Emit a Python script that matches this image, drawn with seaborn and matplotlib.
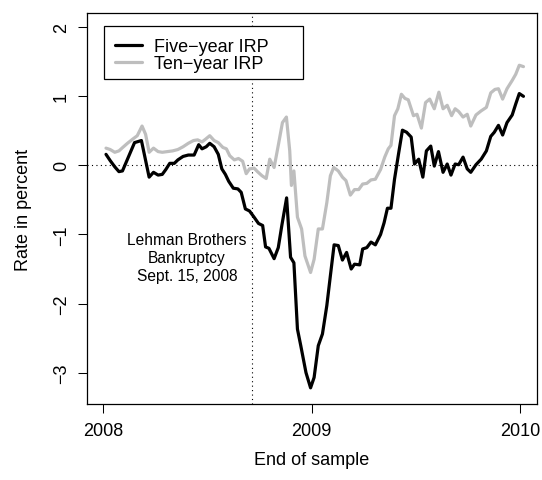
import matplotlib
matplotlib.use("Agg")
import matplotlib.pyplot as plt
from matplotlib.patches import Rectangle
import pandas as pd
import seaborn as sns

# years after 2008.0 (end of sample) and interest rate premia in percent
five_t = [0.013, 0.033, 0.055, 0.075, 0.092, 0.150, 0.183, 0.220, 0.241, 0.263,
          0.283, 0.300, 0.319, 0.341, 0.358, 0.383, 0.408, 0.436, 0.458, 0.474,
          0.494, 0.511, 0.532, 0.552, 0.569, 0.586, 0.602, 0.624, 0.646, 0.662,
          0.682, 0.702, 0.724, 0.745, 0.765, 0.779, 0.795, 0.820, 0.840, 0.857,
          0.880, 0.899, 0.915, 0.932, 0.948, 0.973, 0.995, 1.012, 1.032, 1.052,
          1.073, 1.090, 1.108, 1.128, 1.148, 1.168, 1.190, 1.206, 1.231, 1.245,
          1.265, 1.285, 1.306, 1.331, 1.348, 1.364, 1.381, 1.398, 1.418, 1.436,
          1.456, 1.478, 1.494, 1.514, 1.534, 1.551, 1.572, 1.589, 1.609, 1.631,
          1.651, 1.669, 1.689, 1.706, 1.727, 1.747, 1.764, 1.789, 1.814, 1.839,
          1.860, 1.877, 1.897, 1.917, 1.938, 1.963, 1.980, 1.997, 2.017]
five_irp = [0.16, 0.07, -0.02, -0.09, -0.08, 0.33, 0.36, -0.17, -0.10, -0.14,
            -0.13, -0.06, 0.03, 0.03, 0.08, 0.13, 0.15, 0.15, 0.30, 0.24,
            0.27, 0.32, 0.27, 0.16, -0.05, -0.13, -0.23, -0.33, -0.34, -0.39,
            -0.63, -0.66, -0.75, -0.84, -0.87, -1.18, -1.20, -1.35, -1.19, -0.87,
            -0.47, -1.33, -1.41, -2.37, -2.61, -3.00, -3.22, -3.07, -2.61, -2.44,
            -2.03, -1.60, -1.15, -1.16, -1.37, -1.26, -1.50, -1.43, -1.44, -1.21,
            -1.19, -1.11, -1.15, -1.00, -0.83, -0.62, -0.62, -0.20, 0.18, 0.51,
            0.48, 0.41, 0.02, 0.09, -0.17, 0.21, 0.28, -0.01, 0.20, -0.10,
            0.02, -0.14, 0.02, 0.01, 0.12, -0.05, -0.10, 0.01, 0.09, 0.21,
            0.42, 0.48, 0.58, 0.44, 0.62, 0.73, 0.89, 1.04, 1.00]

ten_t = [0.013, 0.033, 0.055, 0.075, 0.097, 0.116, 0.141, 0.163, 0.186, 0.203,
         0.220, 0.241, 0.263, 0.283, 0.308, 0.333, 0.358, 0.383, 0.408, 0.433,
         0.453, 0.474, 0.491, 0.511, 0.532, 0.552, 0.574, 0.591, 0.607, 0.629,
         0.649, 0.669, 0.686, 0.702, 0.724, 0.740, 0.762, 0.782, 0.799, 0.820,
         0.840, 0.860, 0.879, 0.895, 0.903, 0.915, 0.932, 0.952, 0.968, 0.995,
         1.012, 1.032, 1.052, 1.073, 1.090, 1.106, 1.128, 1.148, 1.165, 1.186,
         1.206, 1.226, 1.245, 1.265, 1.285, 1.306, 1.331, 1.351, 1.368, 1.381,
         1.398, 1.414, 1.431, 1.448, 1.464, 1.489, 1.506, 1.527, 1.547, 1.567,
         1.589, 1.611, 1.631, 1.651, 1.672, 1.689, 1.706, 1.727, 1.747, 1.764,
         1.789, 1.814, 1.839, 1.860, 1.880, 1.897, 1.917, 1.938, 1.963, 1.980,
         1.997, 2.017]
ten_irp = [0.25, 0.23, 0.19, 0.21, 0.27, 0.32, 0.38, 0.43, 0.57, 0.45,
           0.19, 0.25, 0.20, 0.19, 0.20, 0.21, 0.23, 0.27, 0.32, 0.36,
           0.37, 0.34, 0.38, 0.43, 0.36, 0.33, 0.26, 0.24, 0.14, 0.08,
           0.10, 0.06, -0.12, -0.05, -0.04, -0.09, -0.15, -0.19, 0.09, -0.03,
           0.29, 0.62, 0.70, 0.21, -0.29, -0.08, -0.75, -0.92, -1.31, -1.55,
           -1.36, -0.92, -0.92, -0.54, -0.15, -0.03, -0.08, -0.17, -0.22, -0.43,
           -0.35, -0.35, -0.27, -0.26, -0.21, -0.20, -0.06, 0.12, 0.24, 0.29,
           0.72, 0.82, 1.03, 0.97, 0.95, 0.72, 0.74, 0.54, 0.91, 0.96,
           0.82, 1.06, 0.82, 0.87, 0.72, 0.82, 0.78, 0.70, 0.74, 0.57,
           0.73, 0.79, 0.84, 1.05, 1.10, 1.11, 0.96, 1.11, 1.23, 1.32,
           1.45, 1.43]

year_ticks = [2008, 2009, 2010]
rate_ticks = [-3, -2, -1, 0, 1, 2]
lehman_date = 2008.715
lehman_text = "Lehman Brothers\nBankruptcy\nSept. 15, 2008"
series_names = ["Five\u2212year IRP", "Ten\u2212year IRP"]


def make_frame(t, vals):
    return pd.DataFrame({"year": [2008 + v for v in t], "rate": vals})


def main():
    sns.set_style("ticks")
    plt.rcParams["font.family"] = ["Liberation Sans", "DejaVu Sans"]
    plt.rcParams["axes.unicode_minus"] = True
    plt.rcParams["text.color"] = "black"
    plt.rcParams["axes.labelcolor"] = "black"
    plt.rcParams["xtick.color"] = "black"
    plt.rcParams["ytick.color"] = "black"

    fig = plt.figure(figsize=(5.42, 4.81), dpi=100)
    ax = fig.add_axes([0.161, 0.158, 0.829, 0.813])

    sns.lineplot(data=make_frame(five_t, five_irp), x="year", y="rate", ax=ax,
                 color="black", linewidth=2.3, label=series_names[0], zorder=3)
    sns.lineplot(data=make_frame(ten_t, ten_irp), x="year", y="rate", ax=ax,
                 color="#BEBEBE", linewidth=2.3, label=series_names[1], zorder=2)

    ax.axhline(0, color="black", linestyle=(0, (1, 3)), linewidth=0.8, zorder=1)
    ax.axvline(lehman_date, color="black", linestyle=(0, (1, 3)), linewidth=0.8, zorder=1)
    ax.text(2008.402, -1.33, lehman_text, ha="center", va="center",
            fontsize=11.2, linespacing=1.25, color="black")

    ax.set_xlim(2007.923, 2010.08)
    ax.set_ylim(-3.454, 2.207)
    ax.set_xticks(year_ticks)
    ax.set_yticks(rate_ticks)
    ax.set_xticklabels([str(y) for y in year_ticks])
    ax.tick_params(axis="both", direction="out", length=6.5, width=0.75,
                   labelsize=13, color="black", labelcolor="black")
    ax.tick_params(axis="x", pad=6.2)
    ax.tick_params(axis="y", pad=6.0, labelrotation=90)
    for lab in ax.get_yticklabels():
        lab.set_va("center")

    for sp in ax.spines.values():
        sp.set_visible(True)
        sp.set_color("black")
        sp.set_linewidth(0.9)

    ax.set_xlabel("End of sample", fontsize=13, color="black")
    ax.set_ylabel("Rate in percent", fontsize=13, color="black")
    ax.xaxis.set_label_coords(0.5, -0.143)
    ax.xaxis.label.set_va("center")
    ax.yaxis.set_label_coords(-0.142, 0.5)
    ax.yaxis.label.set_va("center")

    # legend frame in R style, wider than its contents
    frame = Rectangle((104 / 542, 1 - 80 / 481), 199 / 542, 52.7 / 481,
                      transform=fig.transFigure, facecolor="white",
                      edgecolor="black", linewidth=0.9, zorder=4)
    ax.add_patch(frame)
    leg = ax.legend(loc="upper left", bbox_to_anchor=(115 / 542, 1 - 39 / 481),
                    bbox_transform=fig.transFigure, frameon=False, fontsize=13,
                    handlelength=1.5, handletextpad=0.68, borderpad=0,
                    borderaxespad=0, labelspacing=0.0)
    for txt in leg.get_texts():
        txt.set_color("black")
    leg.set_zorder(5)

    fig.savefig("out.png", dpi=100)


if __name__ == "__main__":
    main()
